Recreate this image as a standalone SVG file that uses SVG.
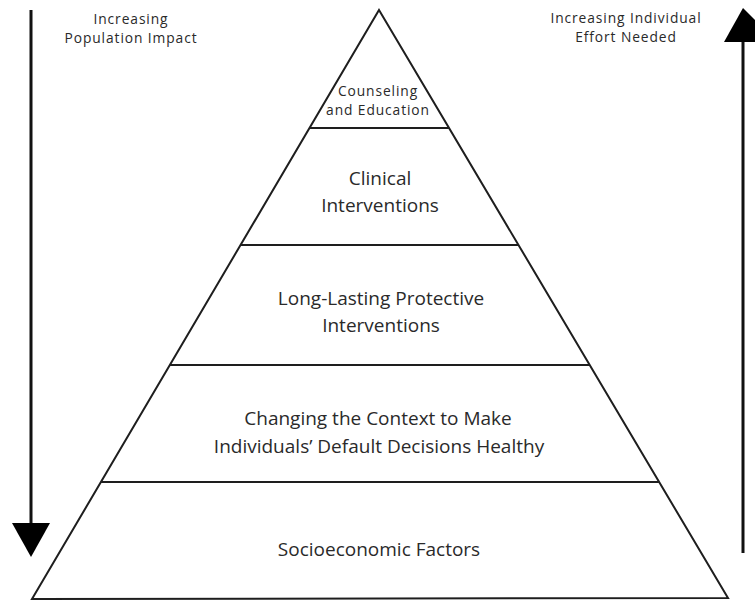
<svg xmlns="http://www.w3.org/2000/svg" width="755" height="604" viewBox="0 0 755 604">
<style>
.edge{fill:none;stroke:#1e1e1e;stroke-width:2;stroke-linejoin:miter}
.div{stroke:#1e1e1e;stroke-width:2.2}
.t{font-family:"Open Sans","Liberation Sans",sans-serif;fill:#2a2a2a;text-anchor:middle}
.s14{font-size:13.8px;letter-spacing:0.9px}
.s19{font-size:19px}
.arr{stroke:#111;stroke-width:3}
</style>
<rect width="755" height="604" fill="#fff"/>
<g id="pyramid">
<polygon class="edge" points="379,10 728,598 32,599"/>
</g>
<g id="tier-counseling">
<line class="div" x1="309.5" y1="128" x2="449" y2="128"/>
<text class="t s14" x="378" y="96">Counseling</text>
<text class="t s14" x="378" y="115">and Education</text>
</g>
<g id="tier-clinical">
<line class="div" x1="240.6" y1="245" x2="518.5" y2="245"/>
<text class="t s19" x="380" y="185">Clinical</text>
<text class="t s19" x="380" y="212">Interventions</text>
</g>
<g id="tier-protective">
<line class="div" x1="169.9" y1="365" x2="589.7" y2="365"/>
<text class="t s19" x="381" y="305">Long-Lasting Protective</text>
<text class="t s19" x="381" y="332">Interventions</text>
</g>
<g id="tier-context">
<line class="div" x1="100.9" y1="482" x2="659.1" y2="482"/>
<text class="t s19" x="378" y="425">Changing the Context to Make</text>
<text class="t s19" x="379" y="453">Individuals’ Default Decisions Healthy</text>
</g>
<g id="tier-socioeconomic">
<text class="t s19" x="379" y="556">Socioeconomic Factors</text>
</g>
<g id="label-population">
<text class="t s14" x="131" y="24">Increasing</text>
<text class="t s14" x="131" y="43">Population Impact</text>
</g>
<g id="label-effort">
<text class="t s14" x="626" y="23">Increasing Individual</text>
<text class="t s14" x="626" y="42">Effort Needed</text>
</g>
<g id="connectors">
<line class="arr" x1="31" y1="10" x2="31" y2="525"/>
<polygon points="12,523 50,523 31,557" fill="#000"/>
<line class="arr" x1="743" y1="40" x2="743" y2="553"/>
<polygon points="724,42 755,42 755,20 743,8" fill="#000"/>
</g>
</svg>
